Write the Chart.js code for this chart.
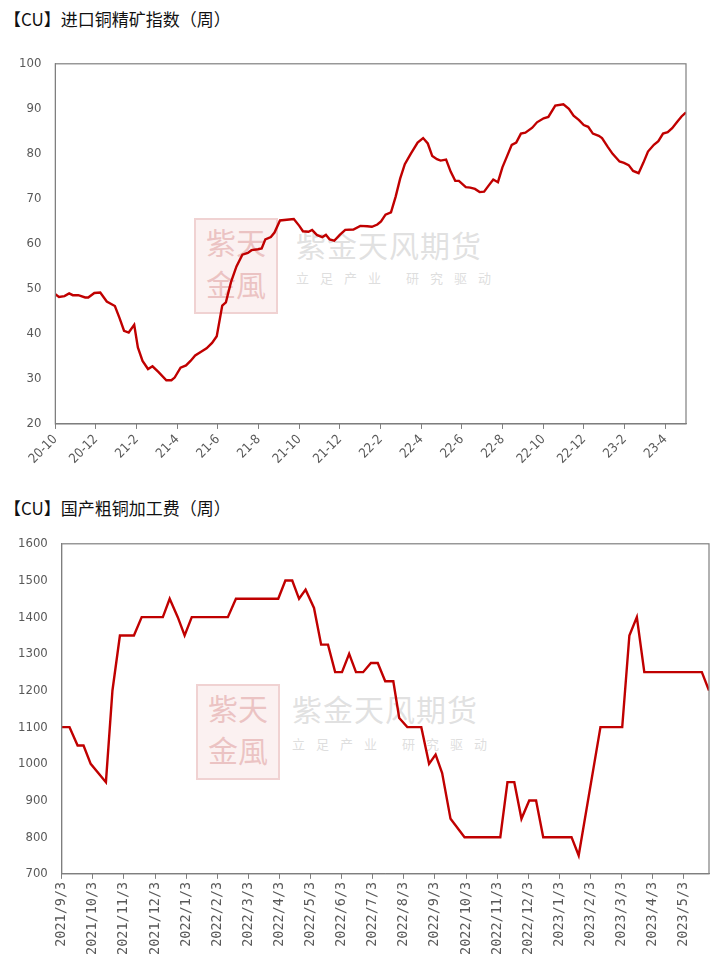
<!DOCTYPE html>
<html><head><meta charset="utf-8">
<script src="https://cdn.jsdelivr.net/npm/chart.js@4"></script>
<style>
body{margin:0;background:#fff;width:719px;height:958px;position:relative;overflow:hidden;font-family:"Noto Sans CJK SC",sans-serif}
.t{position:absolute;left:4px;font-size:17px;color:#111}
.wm{position:absolute;color:rgba(200,200,200,0.55);font-size:30px;letter-spacing:1px}
.wm2{position:absolute;color:rgba(200,200,200,0.6);font-size:13px;letter-spacing:11px}
.seal{position:absolute;width:80px;height:92px;border:2px solid rgba(230,180,180,0.5);background:rgba(240,200,200,0.25);color:rgba(220,150,150,0.5);font-size:30px;line-height:42px;text-align:center}
canvas{position:absolute;left:0}
</style></head><body>
<div class="t" style="top:6px">【CU】进口铜精矿指数（周）</div>
<div class="t" style="top:495px">【CU】国产粗铜加工费（周）</div>
<div class="seal" style="left:194px;top:218px">紫天<br>金風</div>
<div class="wm" style="left:296px;top:222px">紫金天风期货</div>
<div class="wm2" style="left:296px;top:268px">立足产业 研究驱动</div>
<div class="seal" style="left:196px;top:684px">紫天<br>金風</div>
<div class="wm" style="left:292px;top:686px">紫金天风期货</div>
<div class="wm2" style="left:292px;top:734px">立足产业 研究驱动</div>
<canvas id="c1" width="719" height="420" style="top:50px"></canvas>
<canvas id="c2" width="719" height="428" style="top:530px"></canvas>
<script>
// Chart 1: imported copper concentrate index (x = months since 2020-10)
const idxMonths=[0,0.18,0.45,0.68,0.86,1.13,1.47,1.62,1.92,2.21,2.53,2.93,3.16,3.38,3.61,3.88,4.06,4.29,4.56,4.78,5.08,5.46,5.71,5.87,6.16,6.43,6.65,6.88,7.15,7.44,7.71,7.94,8.21,8.39,8.64,8.91,9.2,9.47,9.65,9.97,10.15,10.33,10.6,10.78,11.05,11.5,11.73,12,12.18,12.45,12.63,12.86,13.13,13.31,13.49,13.72,13.99,14.26,14.66,15,15.34,15.57,15.84,16.02,16.24,16.51,16.74,16.96,17.19,17.48,17.82,18.09,18.32,18.54,18.77,18.95,19.22,19.45,19.67,19.85,20.19,20.41,20.64,20.87,21.09,21.32,21.54,21.77,21.99,22.22,22.45,22.67,22.9,23.12,23.46,23.69,24.02,24.25,24.59,24.99,25.26,25.49,25.76,25.99,26.21,26.44,26.73,26.89,27.18,27.41,27.75,27.97,28.2,28.42,28.69,28.92,29.15,29.44,29.66,29.89,30.12,30.34,30.57,30.8,31.02];
const idxValues=[48.8,48.2,48.4,49,48.6,48.6,48.1,48.1,49.1,49.2,47.2,46.2,43.5,40.7,40.3,42,37,34,32.2,32.8,31.5,29.7,29.7,30.3,32.5,33,34,35.2,36,36.8,38,39.5,46.3,47,51.5,55,57.6,58,58.6,58.8,59,61,61.5,62.5,65.2,65.4,65.5,64,62.8,62.7,63.1,62,61.5,62,61,60.7,62,63.1,63.2,64,63.9,63.8,64.3,65,66.5,67,70.5,74.5,77.7,80,82.5,83.5,82.3,79.5,78.8,78.5,78.7,76,74,74,72.6,72.5,72.2,71.5,71.6,73,74.3,73.7,77,79.5,82,82.5,84.5,84.7,85.8,87,87.9,88.2,90.7,91,90,88.5,87.5,86.4,86,84.5,84,83.5,81.5,80,78.3,78,77.5,76.2,75.7,78,80.5,82,82.8,84.5,84.8,85.7,87,88.3,89.2];
const idxTicks=['20-10','20-12','21-2','21-4','21-6','21-8','21-10','21-12','22-2','22-4','22-6','22-8','22-10','22-12','23-2','23-4'];
// Chart 2: domestic blister copper TC (x = months since 2021/9/3)
const tcMonths=[0,0.25,0.51,0.7,0.93,1.42,1.63,1.87,2.32,2.57,3.25,3.47,3.73,3.95,4.18,5.34,5.6,6.96,7.19,7.41,7.63,7.84,8.11,8.34,8.56,8.79,9.01,9.24,9.46,9.69,9.94,10.16,10.4,10.66,10.85,11.11,11.56,11.81,12.02,12.23,12.5,12.95,14.1,14.33,14.55,14.78,15.03,15.25,15.48,16.39,16.62,17.32,18.02,18.25,18.49,18.73,20.58,20.81];
const tcValues=[1100,1100,1050,1050,1000,950,1200,1350,1350,1400,1400,1450,1400,1350,1400,1400,1450,1450,1500,1500,1450,1475,1425,1325,1325,1250,1250,1300,1250,1250,1275,1275,1225,1225,1125,1100,1100,1000,1025,975,850,800,800,950,950,850,900,900,800,800,750,1100,1100,1350,1400,1250,1250,1200];
const tcTicks=['2021/9/3','2021/10/3','2021/11/3','2021/12/3','2022/1/3','2022/2/3','2022/3/3','2022/4/3','2022/5/3','2022/6/3','2022/7/3','2022/8/3','2022/9/3','2022/10/3','2022/11/3','2022/12/3','2023/1/3','2023/2/3','2023/3/3','2023/4/3','2023/5/3'];

const frame={id:'frame',afterDraw(c){const a=c.chartArea,x=c.ctx;x.save();x.strokeStyle='#7f7f7f';x.lineWidth=1.2;x.strokeRect(a.left,a.top,a.right-a.left,a.bottom-a.top);x.restore();}};
const tickFont={family:'"Liberation Sans Narrow","DejaVu Sans Condensed",sans-serif',size:13};
function make(id,xs,ys,ticks,step,xmax,ymin,ymax,ystep,rot,pad,xfont){
  new Chart(document.getElementById(id),{type:'line',
    data:{datasets:[{data:xs.map((x,i)=>({x,y:ys[i]})),borderColor:'#c00000',borderWidth:2.4,pointRadius:0,tension:0,fill:false}]},
    options:{responsive:false,animation:false,layout:{padding:pad},
      plugins:{legend:{display:false},tooltip:{enabled:false}},
      scales:{
        x:{type:'linear',min:0,max:xmax,
          afterBuildTicks(s){s.ticks=ticks.map((t,i)=>({value:i*step}));},
          ticks:{autoSkip:false,minRotation:rot,maxRotation:rot,color:'#595959',font:xfont,callback:(v,i)=>ticks[i]},
          grid:{drawOnChartArea:false,drawTicks:true,tickLength:5,color:'#7f7f7f'},border:{color:'#7f7f7f'}},
        y:{min:ymin,max:ymax,ticks:{stepSize:ystep,color:'#595959',font:tickFont,padding:6,callback:v=>String(v)},
          grid:{display:false},border:{color:'#7f7f7f'}}
      }},plugins:[frame]});
}
make('c1',idxMonths,idxValues,idxTicks,2,31.02,20,100,10,45,{left:13,right:33,top:8,bottom:0},tickFont);
make('c2',tcMonths,tcValues,tcTicks,1,20.81,700,1600,100,90,{left:12,right:10,top:10,bottom:0},{family:'"DejaVu Sans Mono",monospace',size:13.5});
</script></body></html>
